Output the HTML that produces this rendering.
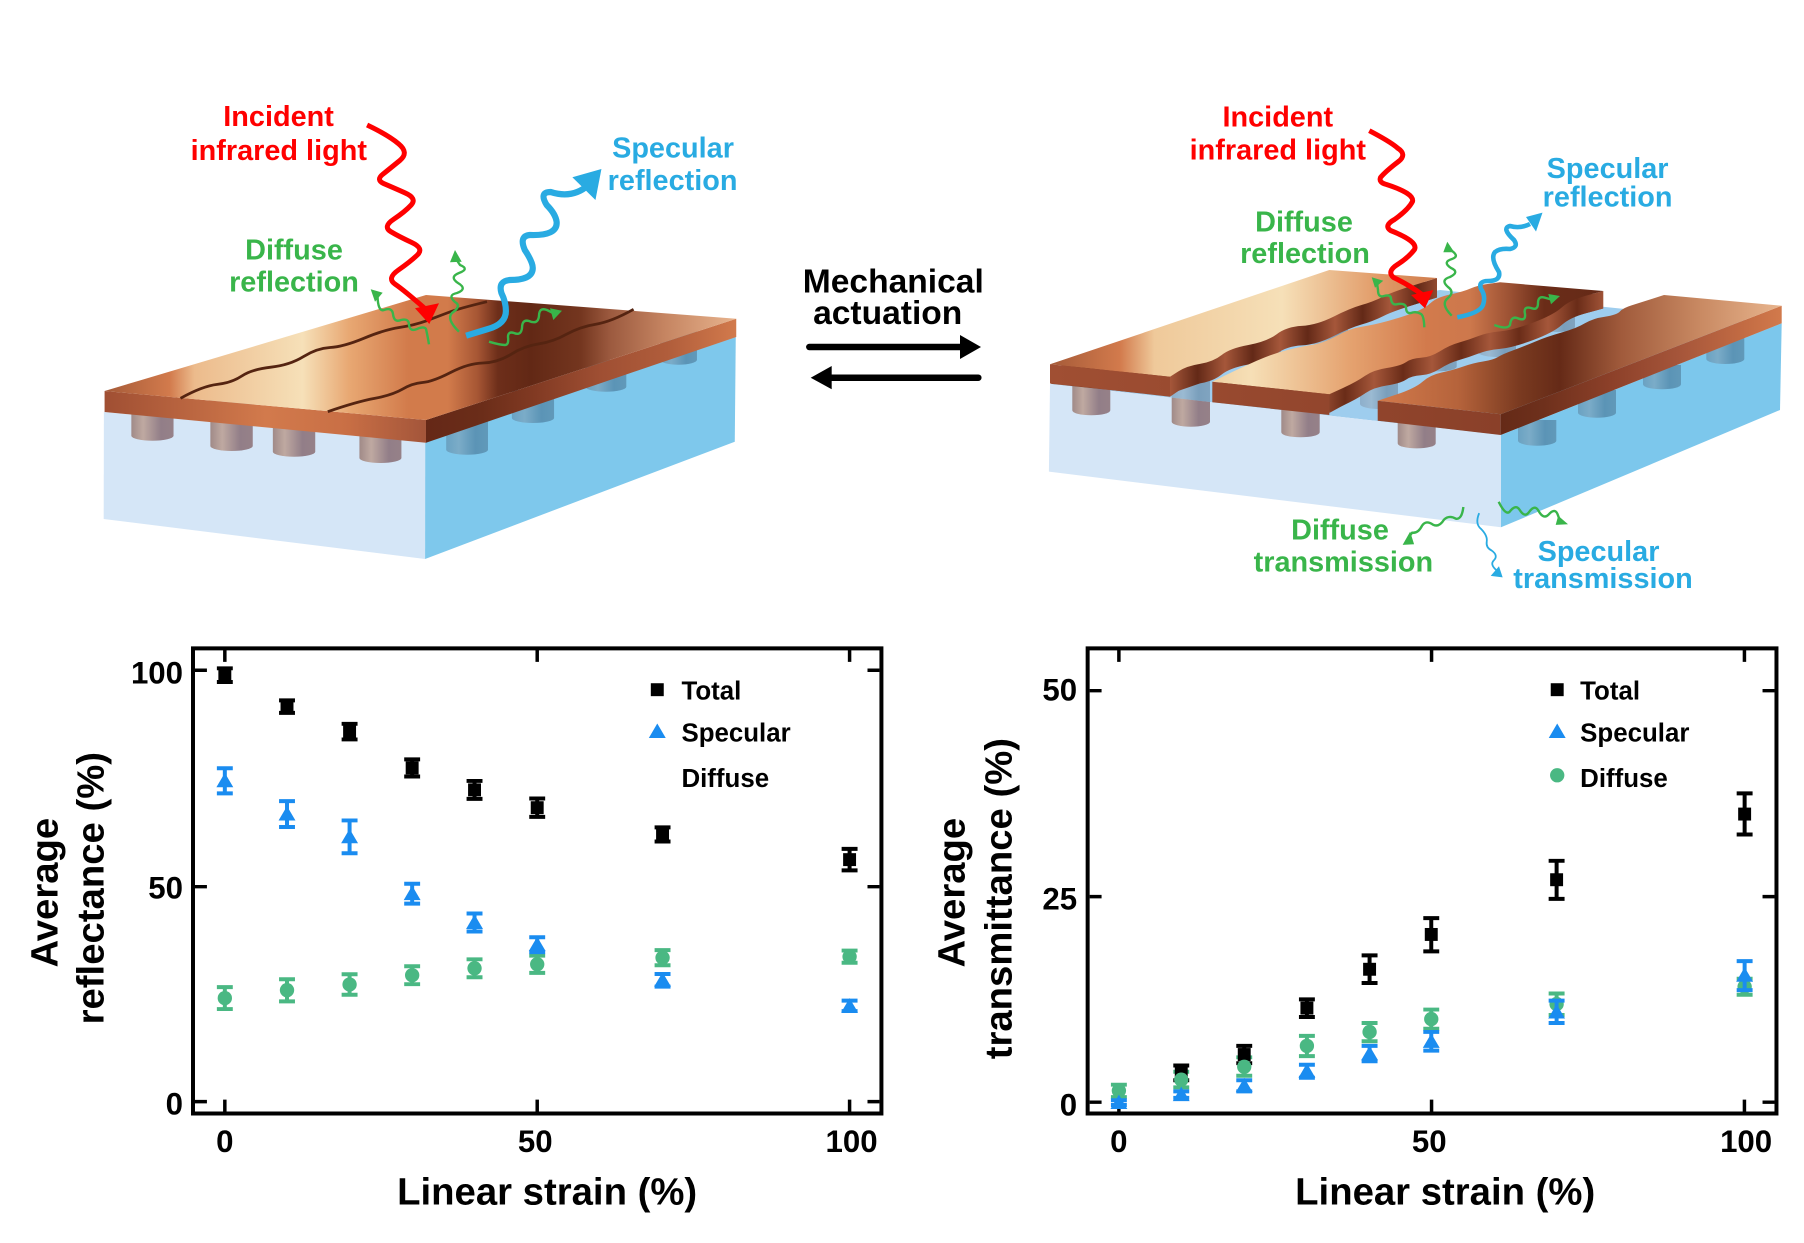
<!DOCTYPE html>
<html lang="en"><head><meta charset="utf-8"><title>Mechanical actuation of infrared reflectance and transmittance</title>
<style>
html,body{margin:0;padding:0;background:#fff}
svg{display:block}
text{font-family:"Liberation Sans",Arial,sans-serif;font-weight:bold}
.m{text-anchor:middle}
.e{text-anchor:end}
.lab{font-size:28.85px}
.r{fill:#ff0000}.g{fill:#39b54a}.b{fill:#29abe2}
.tick{font-size:31.4px;fill:#000}
.leg{font-size:26px;fill:#000}
.ax{font-size:38.5px;fill:#000}
.w{fill:none;stroke-linecap:butt;stroke-linejoin:round}
</style></head><body>
<svg width="1804" height="1243" viewBox="0 0 1804 1243" xmlns="http://www.w3.org/2000/svg">
<defs>
<linearGradient id="gp" x1="0" x2="1" y1="0" y2="0"><stop offset="0" stop-color="#a08a88"/><stop offset=".28" stop-color="#bfa9a1"/><stop offset=".7" stop-color="#927e88"/><stop offset="1" stop-color="#968188"/></linearGradient>
<linearGradient id="bp" x1="0" x2="1" y1="0" y2="0"><stop offset="0" stop-color="#6aa2c2"/><stop offset=".3" stop-color="#7bacc8"/><stop offset=".7" stop-color="#5b94b6"/><stop offset="1" stop-color="#6199b9"/></linearGradient>
<linearGradient id="lp" x1="0" x2="1" y1="0" y2="0"><stop offset="0" stop-color="#8dafcb"/><stop offset=".3" stop-color="#9bbad2"/><stop offset=".7" stop-color="#7a9fbc"/><stop offset="1" stop-color="#80a4c0"/></linearGradient>

<linearGradient id="lt" gradientUnits="userSpaceOnUse" x1="105" x2="740" y1="0" y2="0">
<stop offset="0" stop-color="#a55a38"/><stop offset=".102" stop-color="#d27a4c"/><stop offset=".142" stop-color="#ecbb8c"/><stop offset=".313" stop-color="#f6e0b8"/><stop offset=".386" stop-color="#e8a873"/><stop offset=".48" stop-color="#d27b4b"/><stop offset=".543" stop-color="#d27b4b"/><stop offset=".59" stop-color="#a65634"/><stop offset=".622" stop-color="#6d2e1a"/><stop offset=".674" stop-color="#622815"/><stop offset=".753" stop-color="#74361f"/><stop offset=".8" stop-color="#9c5a3f"/><stop offset=".885" stop-color="#c58461"/><stop offset="1" stop-color="#e8b48e"/></linearGradient>
<linearGradient id="lf" gradientUnits="userSpaceOnUse" x1="105" x2="428" y1="0" y2="0"><stop offset="0" stop-color="#a04f33"/><stop offset=".5" stop-color="#d27a4c"/><stop offset=".75" stop-color="#c96f45"/><stop offset="1" stop-color="#a3553a"/></linearGradient>
<linearGradient id="lr" gradientUnits="userSpaceOnUse" x1="428" x2="740" y1="0" y2="0"><stop offset="0" stop-color="#652817"/><stop offset=".18" stop-color="#6b2d19"/><stop offset=".34" stop-color="#803922"/><stop offset=".56" stop-color="#9f4f33"/><stop offset=".775" stop-color="#b05d3b"/><stop offset="1" stop-color="#d27a4c"/></linearGradient>

<linearGradient id="t1" gradientUnits="userSpaceOnUse" x1="1050" x2="1437" y1="0" y2="0"><stop offset="0" stop-color="#a55a38"/><stop offset=".18" stop-color="#d27a4c"/><stop offset=".27" stop-color="#efc99a"/><stop offset=".6" stop-color="#f6e0b8"/><stop offset=".85" stop-color="#e19a67"/><stop offset="1" stop-color="#cf7c4d"/></linearGradient>
<linearGradient id="t2" gradientUnits="userSpaceOnUse" x1="1212" x2="1603" y1="0" y2="0"><stop offset="0" stop-color="#f0d0a2"/><stop offset=".1" stop-color="#f6dfb6"/><stop offset=".35" stop-color="#e5a370"/><stop offset=".55" stop-color="#d27a4c"/><stop offset=".66" stop-color="#cd784c"/><stop offset=".76" stop-color="#9d5234"/><stop offset=".85" stop-color="#6a2c18"/><stop offset="1" stop-color="#652a17"/></linearGradient>
<linearGradient id="t3" gradientUnits="userSpaceOnUse" x1="1378" x2="1782" y1="0" y2="0"><stop offset="0" stop-color="#d27a4c"/><stop offset=".2" stop-color="#b5633b"/><stop offset=".35" stop-color="#7a3a20"/><stop offset=".45" stop-color="#652a17"/><stop offset=".6" stop-color="#a05a3b"/><stop offset=".8" stop-color="#c98a63"/><stop offset="1" stop-color="#e8b58e"/></linearGradient>
<linearGradient id="sd1" gradientUnits="userSpaceOnUse" x1="1170" x2="1225" y1="0" y2="0" spreadMethod="repeat"><stop offset="0" stop-color="#a5573a"/><stop offset=".5" stop-color="#632917"/><stop offset="1" stop-color="#a5573a"/></linearGradient>
<linearGradient id="sd2" gradientUnits="userSpaceOnUse" x1="1345" x2="1403" y1="0" y2="0" spreadMethod="repeat"><stop offset="0" stop-color="#6a2c18"/><stop offset=".5" stop-color="#a5573a"/><stop offset="1" stop-color="#6a2c18"/></linearGradient>
<linearGradient id="sf" gradientUnits="userSpaceOnUse" x1="1050" x2="1503" y1="0" y2="0"><stop offset="0" stop-color="#a04f33"/><stop offset="1" stop-color="#8a4029"/></linearGradient>
<linearGradient id="sr" gradientUnits="userSpaceOnUse" x1="1501" x2="1782" y1="0" y2="0"><stop offset="0" stop-color="#652a17"/><stop offset=".15" stop-color="#6e301c"/><stop offset=".39" stop-color="#8c4029"/><stop offset=".63" stop-color="#a5553a"/><stop offset=".86" stop-color="#c26b43"/><stop offset="1" stop-color="#d27a4c"/></linearGradient>

<path id="s1" d="M1050,364.3 L1329.3,270 L1437,278 L1415,284.9 Q1393,291.7 1383,296.7 Q1373,301.7 1361.5,305 Q1350,308.3 1333.4,316.7 Q1316.7,325 1301.7,325.9 Q1286.7,326.7 1276.7,334.2 Q1266.7,341.7 1248.4,345 Q1230,348.3 1221.7,355 Q1213.3,361.7 1200,363.9 Q1186.7,366 1178.4,371.4 L1170,376.7 Z"/>
<path id="s2" d="M1212.3,381.7 L1226,375 Q1240,368.3 1256.7,360.8 Q1273.3,353.3 1288.3,349.7 Q1303.3,346 1313.3,344.7 Q1323.3,343.3 1336.7,335.8 Q1350,328.3 1361.7,326.7 Q1373.3,325 1388.3,320.9 Q1403.3,316.7 1414.2,312.5 Q1425,308.3 1430.9,302.8 Q1436.7,297.3 1450,294.5 Q1463.3,291.7 1470.8,288.4 Q1478.3,285 1489.2,283.7 L1500,282.3 L1603.3,291 L1586.7,295.5 Q1570,300 1561.7,307.5 Q1553.3,315 1533.3,322.5 Q1513.3,330 1500,331.4 Q1486.7,332.7 1477.5,336.4 Q1468.3,340 1459.2,342.5 Q1450,345 1440,351.2 Q1430,357.3 1420.9,357.8 Q1411.7,358.3 1405.9,362.2 Q1400,366 1386.7,368 Q1373.3,370 1365,375.9 Q1356.7,381.7 1343,388 L1329.3,394.3 Z"/>
<path id="q" d="M-6.5,-6.5 h13 v13 h-13 z"/>
<path id="tr" d="M0,-8 L8.5,6.5 H-8.5 Z"/>
<circle id="ci" r="7.2"/>
</defs>

<!-- LEFT DEVICE -->
<g transform="matrix(.99509 0 0 1 .393 0)">
<polygon points="104,412 427.7,442 426.8,559 103.8,519" fill="#d5e6f7"/>
<polygon points="427,442 739,337 738,441.7 426.8,559" fill="#7ec8ec"/>
<g fill="url(#gp)">
<path d="M131.6,400 V435.7 A21.2,5 0 0 0 174,435.7 V400 Z"/>
<path d="M211,400 V446 A21.3,5 0 0 0 253.6,446 V400 Z"/>
<path d="M273.8,410 V451.7 A21.3,5 0 0 0 316.4,451.7 V410 Z"/>
<path d="M360.8,420 V458 A21.1,5 0 0 0 403,458 V420 Z"/>
</g>
<g fill="url(#bp)">
<path d="M448,420 V449.7 A21,5 0 0 0 490,449.7 V420 Z"/>
<path d="M514,390 V418 A21.2,5 0 0 0 556.4,418 V390 Z"/>
<path d="M588,360 V386.7 A20.5,5 0 0 0 629,386.7 V360 Z"/>
<path d="M663,330 V359.7 A18.5,5 0 0 0 700,359.7 V330 Z"/>
</g>
<polygon points="104.7,391 427.7,420 427.7,442.7 104.7,412" fill="url(#lf)"/>
<polygon points="427.7,420 739.5,318.7 739.5,337 427.7,442.7" fill="url(#lr)"/>
<polygon points="104.7,391 427.7,295 739.5,318.7 427.7,420" fill="url(#lt)"/>
<path class="w" stroke="#552411" stroke-width="2.8" d="M181,398.3 Q203.4,386 217.9,384.4 Q232.5,382.7 242.6,376 Q252.7,369.3 271.8,367.2 Q290.9,365 304.4,356.7 Q317.8,348.3 331.3,347.5 Q344.7,346.7 364.9,338.4 Q385,330 400.8,327.5 Q416.5,325 427.8,320.9 Q439,316.7 450.2,312.5 Q461.3,308.3 489,301.7"/>
<path class="w" stroke="#552411" stroke-width="2.8" d="M329,411.7 Q358,401.7 376,398.4 Q394,395 404,389.2 Q414,383.3 424.2,382.5 Q434.4,381.7 452.4,372.5 Q470.3,363.3 484.9,363 Q499.5,362.7 513,354.4 Q526.4,346 541,343.9 Q555.6,341.7 569,334.2 Q582.5,326.7 598.3,324.2 Q614,321.7 636.3,309.3"/>
<path class="w" stroke="#ff0000" stroke-width="5" d="M368.5,125 Q389.6,135 400.3,143.9 Q411,152.7 401.4,160.5 Q391.8,168.3 384.4,174.2 Q377,180 385.5,183.7 Q394,187.3 406.5,192.8 Q419,198.3 412.8,205 Q406.6,211.7 395.3,219.2 Q384,226.7 392.4,231.7 Q400.8,236.7 413.4,242.5 Q426,248.3 419,255 Q412,261.7 400,270 Q388,278.3 396.7,284.2 Q405.3,290 426,308"/>
<path class="w" stroke="#29abe2" stroke-width="6.2" stroke-linecap="round" d="M468,335.7 L490,329 Q508,324 508,311 Q508,302 503.5,293 Q500,281 512,280 Q535,280 535,268 Q535,262 527,250 Q521,236 532,235 Q560,236 559,222 Q558,214 549,205 Q541,192 553,192 Q575,199 591,185"/>
<polygon points="574.8,177.3 604,169 598,200" fill="#29abe2"/>
</g>
<polygon points="415,308.3 439,303.3 429.3,324" fill="#ff0000"/>
<g stroke="#39b54a" stroke-width="2.4" class="w">
<path d="M429,344.3 Q427,333 426,329 Q424,326 417,329 Q410,332 409,325 Q409,318 401,320 Q394,323 393,314 Q392,307 384,310 Q378,312 377.5,296"/>
<path d="M459,331.7 Q446,319 452,313 Q462,306 455,302 Q447,295 457,293 Q468,289 458,283 Q449,277 459,273 Q470,269 460,265 L456.7,260"/>
<path d="M489,341.7 Q500,345 505,345 Q509,345 508,337 Q508,331 514,333 Q521,336 522,328 Q522,319 529,321 Q538,325 539,316 Q539,307 547,310 L555,314"/>
</g>
<g fill="#39b54a">
<polygon points="370.7,289.3 382.7,292.7 375,301.7"/>
<polygon points="455,250 461.7,261.7 450,262.3"/>
<polygon points="550,308.3 562,310.7 553.3,320"/>
</g>
<text class="lab r m" x="278.6" y="126">Incident</text>
<text class="lab r m" x="278.8" y="160">infrared light</text>
<text class="lab b m" x="673" y="157.3">Specular</text>
<text class="lab b m" x="672.6" y="190">reflection</text>
<text class="lab g m" x="294" y="259.3">Diffuse</text>
<text class="lab g m" x="294" y="291.7">reflection</text>

<!-- MIDDLE -->
<text class="m" x="893.3" y="292.7" font-size="33.6" fill="#000">Mechanical</text>
<text class="m" x="887.7" y="324" font-size="33.6" fill="#000">actuation</text>
<path d="M809.3,347 H962" stroke="#000" stroke-width="6.5" stroke-linecap="round" fill="none"/>
<polygon points="960,335 981,347 960,359" fill="#000"/>
<path d="M978.3,377.7 H830" stroke="#000" stroke-width="6.5" stroke-linecap="round" fill="none"/>
<polygon points="831.7,366 810.7,377.7 831.7,389.3" fill="#000"/>

<!-- RIGHT DEVICE -->
<polygon points="1050,384 1501,435 1781.7,323.3 1620,308.5 1440,290 1329,310" fill="#9ecdee"/>
<g fill="url(#lp)">
<path d="M1243,340 V361 A19,5 0 0 0 1281,361 V340 Z"/>
<path d="M1310,320 V341 A19,5 0 0 0 1348,341 V320 Z"/>
<path d="M1360,360 V404 A19,5 0 0 0 1398,404 V360 Z"/>
<path d="M1419,340 V367 A19,5 0 0 0 1456.7,367 V340 Z"/>
<path d="M1478,320 V352 A19,5 0 0 0 1516,352 V320 Z"/>
<path d="M1536.7,300 V327 A19,5 0 0 0 1575,327 V300 Z"/>
<rect x="1171.7" y="365" width="38.3" height="38"/>
</g>
<polygon points="1050,384 1501,435 1501,527.3 1048.9,471.6" fill="#d5e6f7"/>
<polygon points="1501,435 1781.7,323.3 1780,410 1501,527.3" fill="#7cc7ec"/>
<g fill="url(#gp)">
<path d="M1072.3,380 V410.3 A19,5 0 0 0 1110.3,410.3 V380 Z"/>
<path d="M1171.7,397.6 V421.7 A19.1,5 0 0 0 1210,421.7 V402 Z"/>
<path d="M1281.3,400 V432.3 A19.2,5 0 0 0 1319.7,432.3 V400 Z"/>
<path d="M1397.7,415 V443.4 A19,5 0 0 0 1435.7,443.4 V415 Z"/>
</g>
<g fill="url(#bp)">
<path d="M1518,420 V440.7 A19.1,5 0 0 0 1556.3,440.7 V420 Z"/>
<path d="M1578,390 V412.7 A19,5 0 0 0 1616,412.7 V390 Z"/>
<path d="M1643,365 V384.3 A19,5 0 0 0 1681,384.3 V365 Z"/>
<path d="M1706.3,335 V359 A19,5 0 0 0 1744.3,359 V335 Z"/>
</g>
<!-- strip 1 -->
<g fill="url(#sd1)"><use href="#s1" y="5"/><use href="#s1" y="10"/><use href="#s1" y="15"/><use href="#s1" y="19.5"/>
<polygon points="1437,278 1437,297.5 1415,304.4 1393,311.2 1393,291.7 1415,284.9"/>
<polygon points="1170,376.7 1170,396.7 1178.4,390.9 1200,383.4 1200,363.9 1178.4,371.4"/></g>
<use href="#s1" fill="url(#t1)"/>
<polygon points="1050,364.3 1170,376.7 1170,396.7 1050,383.3" fill="url(#sf)"/>
<!-- strip 2 -->
<g fill="url(#sd2)"><use href="#s2" y="4"/><use href="#s2" y="8"/><use href="#s2" y="12"/><use href="#s2" y="17.5"/>
<polygon points="1603.3,291 1603.3,308.5 1586.7,313 1570,317.5 1570,300 1586.7,295.5"/>
<polygon points="1329.3,394.3 1329.3,413 1343,405.5 1365,393.4 1365,375.9 1343,388"/></g>
<use href="#s2" fill="url(#t2)"/>
<polygon points="1212.3,381.7 1329.3,394.3 1329.3,415 1212.3,402.3" fill="url(#sf)"/>
<!-- strip 3 -->
<polygon points="1377.7,400.7 1500.7,414.3 1500.7,435 1377.7,420.7" fill="url(#sf)"/>
<polygon points="1500.7,414.3 1781.7,305.7 1781.7,323.3 1500.7,435" fill="url(#sr)"/>
<path d="M1377.7,400.7 L1396.4,394.5 Q1415,388.3 1422.5,381.7 Q1430,375 1441.7,372.5 Q1453.3,370 1463.3,366.5 Q1473.3,363 1483,361.5 Q1493,360 1498,357 Q1503,354 1513,350.4 Q1523,346.7 1534.9,341.7 Q1546.7,336.7 1561.7,332.5 Q1576.7,328.3 1584.9,323.3 Q1593,318.3 1604.9,316.7 Q1616.7,315 1619.9,311.5 Q1623,308 1631.5,305.4 Q1640,302.7 1652,298.9 L1664,295 L1781.7,305.7 L1500.7,414.3 Z" fill="url(#t3)"/>
<!-- right rays -->
<path class="w" stroke="#ff0000" stroke-width="5" transform="translate(-1.5,-.5)" d="M1370.8,131.2 Q1392,142.3 1399,148.5 Q1409,155 1400,162 Q1387,172 1382,178 Q1380,183 1388,185 Q1416,194 1414,202 Q1410,210 1396,220 Q1385,226 1392,231 Q1420,242 1416,250 Q1410,258 1399,265 Q1388,272 1395,278 Q1410,285 1425,296"/>
<polygon points="1411,295 1433.3,290 1425,308.3" fill="#ff0000"/>
<path class="w" stroke="#29abe2" stroke-width="4.6" stroke-linecap="round" d="M1457.3,317.3 Q1480,313 1483,305 Q1486,296 1481,289 Q1478,281 1488,281 Q1501,281 1499,272 Q1490,258 1495,252 Q1500,248 1510,249 Q1519,247 1514,240 Q1501,228 1510,226 Q1520,229 1530,224"/>
<polygon points="1526,217 1542.5,212.6 1536,231.5" fill="#29abe2"/>
<g stroke="#39b54a" stroke-width="2.4" class="w">
<path d="M1424.3,327.3 Q1424,316 1421,314 Q1416,311 1411,313 Q1406,314 1406,307 Q1405,303 1398,304 Q1392,306 1391,299 Q1391,294 1384,296 Q1378,298 1378,290 L1377,283"/>
<path d="M1451.7,315.7 Q1440,304 1448,298 Q1455,292 1448,287 Q1440,280 1450,277 Q1460,272 1451,268 Q1442,262 1452,259 Q1461,256 1449,249"/>
<path d="M1494.3,325 Q1507,330 1510,325 Q1511,316 1517,318 Q1526,322 1525,314 Q1523,306 1531,308 Q1538,311 1538,303 Q1538,295 1546,298 L1553,300"/>
</g>
<g fill="#39b54a">
<polygon points="1371.7,277.3 1383.3,280.7 1375,287.7"/>
<polygon points="1447.3,241.7 1454.3,252.3 1443.3,252.3"/>
<polygon points="1548.3,294 1560,296 1551,304.3"/>
</g>
<g transform="matrix(.99506 0 0 .99483 5.088 .414)">
<g stroke="#39b54a" stroke-width="2.4" class="w">
<path d="M1465.5,509.2 Q1464,522 1458,521 Q1451,517 1446,522 Q1441,530 1435,527 Q1428,522 1424,528 Q1420,536 1414,535 L1410,541"/>
<path d="M1501,504 Q1508,518 1512,514 Q1518,506 1522,512 Q1527,520 1531,515 Q1537,506 1541,513 Q1546,522 1551,517 Q1557,510 1560,516 L1563,524"/>
</g>
<path class="w" stroke="#29abe2" stroke-width="1.8" d="M1481.4,515.4 Q1477,526 1483,531 Q1490,538 1489,544 Q1488,550 1494,553 Q1501,558 1496,563 Q1492,567 1499,573"/>
<g fill="#39b54a">
<polygon points="1412,534 1416,546.6 1404.5,547.3"/>
<polygon points="1570.7,526.5 1558.3,527.2 1560.8,518"/>
</g>
<polygon points="1505,580 1493,578.5 1501.3,568.8" fill="#29abe2"/>
</g>
<text class="lab r m" x="1277.8" y="126.4">Incident</text>
<text class="lab r m" x="1277.8" y="159.6">infrared light</text>
<text class="lab b m" x="1607.6" y="178.1">Specular</text>
<text class="lab b m" x="1607.6" y="206.7">reflection</text>
<text class="lab g m" x="1304" y="231.5">Diffuse</text>
<text class="lab g m" x="1305" y="263">reflection</text>
<text class="lab g m" x="1340" y="539.6">Diffuse</text>
<text class="lab g m" x="1343.4" y="571.5">transmission</text>
<text class="lab b m" x="1598.5" y="561.1">Specular</text>
<text class="lab b m" x="1603" y="587.9">transmission</text>

<!-- LEFT PLOT -->
<g transform="matrix(.99483 0 0 .99492 0 3.2)">
<path d="M194,648.5 H886 V1116 H194 Z" fill="none" stroke="#000" stroke-width="4"/>
<path d="M226,650 V662 M540,650 V662 M854,650 V662 M226,1102 V1114 M540,1102 V1114 M854,1102 V1114 M196,670.5 H208 M196,888 H208 M196,1104 H208 M872,670.5 H884 M872,888 H884 M872,1104 H884" stroke="#000" stroke-width="3.5" fill="none"/>
<g class="tick">
<text class="e" x="184" y="684">100</text><text class="e" x="184" y="900">50</text><text class="e" x="184" y="1117">0</text>
<text class="m" x="226" y="1154.5">0</text><text class="m" x="538" y="1154.5">50</text><text class="m" x="856" y="1154.5">100</text>
</g>
<text class="ax m" x="550" y="1207.6">Linear strain (%)</text>
<text class="ax m" transform="translate(58,894) rotate(-90)">Average</text>
<text class="ax m" transform="translate(104,889.5) rotate(-90)">reflectance (%)</text>
<g fill="none" stroke-width="4">
<path stroke="#000" d="M218,668.5 h16 M226,668.5 V682.3 M218,682.3 h16 M280.5,700.7 h16 M288.5,700.7 V713.3 M280.5,713.3 h16 M343.4,724.3 h16 M351.4,724.3 V740 M343.4,740 h16 M406.3,760 h16 M414.3,760 V777.3 M406.3,777.3 h16 M469,781.7 h16 M477,781.7 V799.7 M469,799.7 h16 M532,799.4 h16 M540,799.4 V817.8 M532,817.8 h16 M658,828.4 h16 M666,828.4 V842.6 M658,842.6 h16 M846,850 h16 M854,850 V871.6 M846,871.6 h16"/>
<path stroke="#4ab883" d="M218,989 h16 M226,989 V1011 M218,1011 h16 M280.5,981 h16 M288.5,981 V1003.3 M280.5,1003.3 h16 M343.4,976 h16 M351.4,976 V996.6 M343.4,996.6 h16 M406.3,968 h16 M414.3,968 V986 M406.3,986 h16 M469,961 h16 M477,961 V979 M469,979 h16 M532,957.3 h16 M540,957.3 V974.6 M532,974.6 h16 M658,951.8 h16 M666,951.8 V967 M658,967 h16 M846,952.2 h16 M854,952.2 V964.4 M846,964.4 h16"/>
<path stroke="#1a8cf0" d="M218,769 h16 M226,769 V794.2 M218,794.2 h16 M280.5,802 h16 M288.5,802 V828 M280.5,828 h16 M343.4,821.4 h16 M351.4,821.4 V854.4 M343.4,854.4 h16 M406.3,885 h16 M414.3,885 V905 M406.3,905 h16 M469,914.9 h16 M477,914.9 V933 M469,933 h16 M532,938.8 h16 M540,938.8 V953.8 M532,953.8 h16 M658,975.8 h16 M666,975.8 V988.4 M658,988.4 h16 M846,1002.5 h16 M854,1002.5 V1013 M846,1013 h16"/>
</g>
<g fill="#000"><use href="#q" x="226" y="675.4"/><use href="#q" x="288.5" y="707"/><use href="#q" x="351.4" y="732"/><use href="#q" x="414.3" y="768.6"/><use href="#q" x="477" y="790.7"/><use href="#q" x="540" y="808.6"/><use href="#q" x="666" y="835.5"/><use href="#q" x="854" y="860.8"/></g>
<g fill="#4ab883"><use href="#ci" x="226" y="1000"/><use href="#ci" x="288.5" y="992"/><use href="#ci" x="351.4" y="986.3"/><use href="#ci" x="414.3" y="977"/><use href="#ci" x="477" y="970"/><use href="#ci" x="540" y="966"/><use href="#ci" x="666" y="959.4"/><use href="#ci" x="854" y="958.3"/></g>
<g fill="#1a8cf0"><use href="#tr" x="226" y="781.6"/><use href="#tr" x="288.5" y="815"/><use href="#tr" x="351.4" y="837.9"/><use href="#tr" x="414.3" y="895"/><use href="#tr" x="477" y="924"/><use href="#tr" x="540" y="946.3"/><use href="#tr" x="666" y="982"/><use href="#tr" x="854" y="1008"/></g>
<g><use href="#q" x="660.7" y="690" fill="#000"/><use href="#tr" x="660.7" y="732" fill="#1a8cf0"/></g>
<g class="leg"><text x="685" y="700">Total</text><text x="685" y="742">Specular</text><text x="685" y="788">Diffuse</text></g>
</g>

<!-- RIGHT PLOT -->
<g transform="matrix(.99483 0 0 .99492 4.674 3.2)">
<path d="M1088.6,648.5 H1781 V1116 H1088.6 Z" fill="none" stroke="#000" stroke-width="4"/>
<path d="M1120,650 V662 M1434.3,650 V662 M1748.8,650 V662 M1120,1102 V1114 M1434.3,1102 V1114 M1748.8,1102 V1114 M1090.6,691 H1102.6 M1090.6,898 H1102.6 M1090.6,1104.6 H1102.6 M1767,691 H1779 M1767,898 H1779 M1767,1104.6 H1779" stroke="#000" stroke-width="3.5" fill="none"/>
<g class="tick">
<text class="e" x="1078" y="700.7">50</text><text class="e" x="1078" y="911">25</text><text class="e" x="1078" y="1118">0</text>
<text class="m" x="1120" y="1154.5">0</text><text class="m" x="1432" y="1154.5">50</text><text class="m" x="1750.5" y="1154.5">100</text>
</g>
<text class="ax m" x="1448" y="1207.6">Linear strain (%)</text>
<text class="ax m" transform="translate(964.6,894) rotate(-90)">Average</text>
<text class="ax m" transform="translate(1012,900) rotate(-90)">transmittance (%)</text>
<g fill="none" stroke-width="4">
<path stroke="#000" d="M1174.7,1067.7 h16 M1182.7,1067.7 V1082.6 M1174.7,1082.6 h16 M1238,1048 h16 M1246,1048 V1065.4 M1238,1065.4 h16 M1301,1001.3 h16 M1309,1001.3 V1019 M1301,1019 h16 M1364,957 h16 M1372,957 V984.8 M1364,984.8 h16 M1426,919.6 h16 M1434,919.6 V953 M1426,953 h16 M1552,862 h16 M1560,862 V900.3 M1552,900.3 h16 M1741,794.2 h16 M1749,794.2 V835.5 M1741,835.5 h16"/>
<path stroke="#4ab883" d="M1112,1087 h16 M1120,1087 V1099.5 M1112,1099.5 h16 M1174.7,1074 h16 M1182.7,1074 V1089.7 M1174.7,1089.7 h16 M1238,1059.5 h16 M1246,1059.5 V1078 M1238,1078 h16 M1301,1037.9 h16 M1309,1037.9 V1058.3 M1301,1058.3 h16 M1364,1025 h16 M1372,1025 V1043.4 M1364,1043.4 h16 M1426,1011.5 h16 M1434,1011.5 V1030.8 M1426,1030.8 h16 M1552,995.4 h16 M1560,995.4 V1017 M1552,1017 h16 M1741,980.5 h16 M1749,980.5 V996.6 M1741,996.6 h16"/>
</g>
<g fill="#000"><use href="#q" x="1182.7" y="1075"/><use href="#q" x="1246" y="1056.7"/><use href="#q" x="1309" y="1010"/><use href="#q" x="1372" y="971"/><use href="#q" x="1434" y="936"/><use href="#q" x="1560" y="881"/><use href="#q" x="1749" y="815"/></g>
<g fill="#4ab883"><use href="#ci" x="1120" y="1093"/><use href="#ci" x="1182.7" y="1082"/><use href="#ci" x="1246" y="1069"/><use href="#ci" x="1309" y="1048"/><use href="#ci" x="1372" y="1034"/><use href="#ci" x="1434" y="1021"/><use href="#ci" x="1560" y="1006"/><use href="#ci" x="1749" y="988.5"/></g>
<path fill="none" stroke="#1a8cf0" stroke-width="4" d="M1112,1102.7 h16 M1120,1102.7 V1107.4 M1112,1107.4 h16 M1174.7,1093.7 h16 M1182.7,1093.7 V1100.3 M1174.7,1100.3 h16 M1238,1082.6 h16 M1246,1082.6 V1093.7 M1238,1093.7 h16 M1301,1067 h16 M1309,1067 V1080 M1301,1080 h16 M1364,1048 h16 M1372,1048 V1063.4 M1364,1063.4 h16 M1426,1034 h16 M1434,1034 V1052.8 M1426,1052.8 h16 M1552,1002.5 h16 M1560,1002.5 V1025 M1552,1025 h16 M1741,962.8 h16 M1749,962.8 V992 M1741,992 h16"/>
<g fill="#1a8cf0"><use href="#tr" x="1120" y="1105"/><use href="#tr" x="1182.7" y="1097"/><use href="#tr" x="1246" y="1088"/><use href="#tr" x="1309" y="1073.5"/><use href="#tr" x="1372" y="1056"/><use href="#tr" x="1434" y="1043.5"/><use href="#tr" x="1560" y="1014"/><use href="#tr" x="1749" y="977"/></g>
<g><use href="#q" x="1560.6" y="690" fill="#000"/><use href="#tr" x="1560.6" y="732" fill="#1a8cf0"/><use href="#ci" x="1560.6" y="776" fill="#4ab883"/></g>
<g class="leg"><text x="1583.7" y="700">Total</text><text x="1583.7" y="742">Specular</text><text x="1583.7" y="788">Diffuse</text></g>
</g>
</svg>
</body></html>
